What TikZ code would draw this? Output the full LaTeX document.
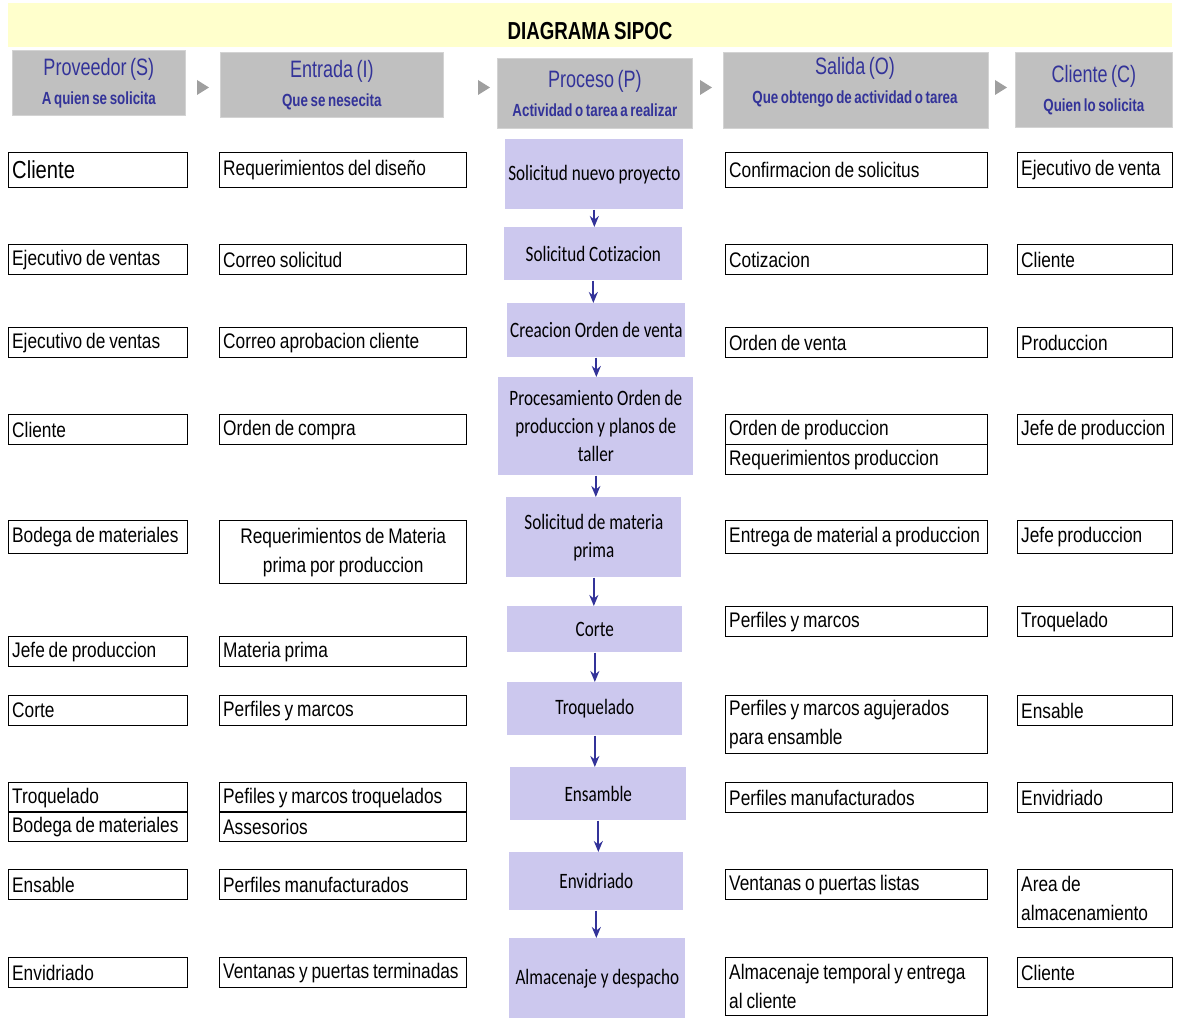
\documentclass[tikz,border=0pt]{standalone}
\usepackage{fontspec}
\setmainfont{Liberation Sans}[FakeStretch=0.82, WordSpace=0.8]
\newfontfamily\headfam{Liberation Sans}[FakeStretch=0.76, WordSpace=0.7]
\newfontfamily\procfam{Carlito}[FakeStretch=0.78, Ligatures=NoCommon]
\usepackage{xcolor}
\definecolor{bandc}{HTML}{FFFFCC}
\definecolor{headc}{HTML}{C0C0C0}
\definecolor{headtxt}{HTML}{333399}
\definecolor{procc}{HTML}{CCC8EE}
\usepackage{tikz}
\usetikzlibrary{positioning,arrows.meta}
\hyphenpenalty=10000
\exhyphenpenalty=10000

\newcommand\cellfont{\fontsize{12}{16.4}\selectfont}
\newcommand\bigcell{\fontsize{14}{16.4}\selectfont}
\newcommand\headbig{\headfam\fontsize{13.5}{15}\selectfont}
\newcommand\headsub{\headfam\bfseries\fontsize{10}{12}\selectfont}
\newcommand\procfont{\procfam\fontsize{12.5}{16}\selectfont}

\begin{document}
\begin{tikzpicture}[x=0.02cm, y=-0.02cm,
    every node/.style={font=\cellfont},
    band/.style={fill=bandc, anchor=north west, minimum width=23.28cm,
                 minimum height=0.88cm, inner sep=0pt},
    headbox/.style={fill=headc, draw=headc!70, anchor=north west,
                    align=center, inner sep=1pt, text=headtxt},
    cell/.style={draw=black, line width=0.8pt, anchor=north west,
                 align=flush left, inner xsep=2pt, inner ysep=0pt,
                 minimum height=0.6cm},
    colS/.style={cell, text width=3.44cm},
    colE/.style={cell, text width=4.80cm},
    colO/.style={cell, text width=5.10cm},
    colC/.style={cell, text width=2.96cm},
    proc/.style={fill=procc, anchor=north west, align=center,
                 inner sep=0pt, font=\procfont},
    flow/.style={-{Stealth[length=2.2mm,width=1.8mm]}, draw=headtxt,
                 line width=1.2pt},
    tri/.style={fill=gray!75}]
  \useasboundingbox (0,0) rectangle (1178,1020);
  % header
  \node[band] (bar) at (8,3) {};
  \node[font=\headfam\bfseries\fontsize{14}{15}\selectfont] (title) at (590,31) {DIAGRAMA SIPOC};
  \node[headbox, minimum width=3.46cm, minimum height=1.3cm] (hS) at (12,50)
    {{\headbig Proveedor (S)}\\{\headsub A quien se solicita}};
  \node[headbox, minimum width=4.46cm, minimum height=1.3cm] (hI) at (220,52)
    {{\headbig Entrada (I)}\\{\headsub Que se nesecita}};
  \node[headbox, minimum width=3.9cm, minimum height=1.4cm] (hP) at (497,58)
    {{\headbig Proceso (P)}\\{\headsub Actividad o tarea a realizar}};
  \node[headbox, minimum width=5.3cm, minimum height=1.52cm] (hO) at (723,52) {};
  \node[text=headtxt, align=center] (hOtxt) at (855,82)
    {{\headbig Salida (O)}\\{\headsub Que obtengo de actividad o tarea}};
  \node[headbox, minimum width=3.14cm, minimum height=1.5cm] (hC) at (1015,52)
    {{\headbig Cliente (C)}\\{\headsub Quien lo solicita}};
  \fill[tri] (197,80) -- (209,87.5) -- (197,95) -- cycle;
  \fill[tri] (478,80) -- (490,87.5) -- (478,95) -- cycle;
  \fill[tri] (700,80) -- (712,87.5) -- (700,95) -- cycle;
  \fill[tri] (995,80) -- (1007,87.5) -- (995,95) -- cycle;

  % proceso
  \node[proc, minimum width=3.56cm, minimum height=1.4cm] (p1) at (505,139) {Solicitud nuevo proyecto};
  \node[proc, minimum width=3.56cm, minimum height=1.06cm] (p2) at (504,227) {Solicitud Cotizacion};
  \node[proc, minimum width=3.56cm, minimum height=1.08cm] (p3) at (507,303) {Creacion Orden de venta};
  \node[proc, minimum width=3.9cm, minimum height=1.96cm] (p4) at (498,377)
    {Procesamiento Orden de\\produccion y planos de\\taller};
  \node[proc, minimum width=3.5cm, minimum height=1.6cm] (p5) at (506,497) {Solicitud de materia\\prima};
  \node[proc, minimum width=3.5cm, minimum height=0.92cm] (p6) at (507,606) {Corte};
  \node[proc, minimum width=3.5cm, minimum height=1.06cm] (p7) at (507,682) {Troquelado};
  \node[proc, minimum width=3.52cm, minimum height=1.06cm] (p8) at (510,767) {Ensamble};
  \node[proc, minimum width=3.48cm, minimum height=1.16cm] (p9) at (509,852) {Envidriado};
  \node[proc, minimum width=3.52cm, minimum height=1.6cm] (p10) at (509,938) {Almacenaje y despacho};
  \foreach \a/\b in {p1/p2,p2/p3,p3/p4,p4/p5,p5/p6,p6/p7,p7/p8,p8/p9,p9/p10}
    \draw[flow] (\a.south) -- (\a.south |- \b.north);

  % fila 1
  \node[colS, minimum height=0.7cm, font=\bigcell] (s1) at (8,152) {Cliente};
  \node[colE, minimum height=0.7cm] (e1) at (219,152) {Requerimientos del diseño};
  \node[colO, minimum height=0.7cm] (o1) at (725,152) {Confirmacion de solicitus};
  \node[colC, minimum height=0.7cm] (c1) at (1017,152) {Ejecutivo de venta};
  % fila 2
  \node[colS] (s2) at (8,244) {Ejecutivo de ventas};
  \node[colE] (e2) at (219,244) {Correo solicitud};
  \node[colO] (o2) at (725,244) {Cotizacion};
  \node[colC] (c2) at (1017,244) {Cliente};
  % fila 3
  \node[colS] (s3) at (8,327) {Ejecutivo de ventas};
  \node[colE] (e3) at (219,327) {Correo aprobacion cliente};
  \node[colO] (o3) at (725,327) {Orden de venta};
  \node[colC] (c3) at (1017,327) {Produccion};
  % fila 4
  \node[colS] (s4) at (8,414) {Cliente};
  \node[colE] (e4) at (219,414) {Orden de compra};
  \node[colO] (o4) at (725,414) {Orden de produccion};
  \node[colO] (o4b) at (725,444) {Requerimientos produccion};
  \node[colC] (c4) at (1017,414) {Jefe de produccion};
  % fila 5
  \node[colS, minimum height=0.66cm] (s5) at (8,520) {Bodega de materiales};
  \node[colE, minimum height=1.26cm, align=flush center] (e5) at (219,520)
    {Requerimientos de Materia\\prima por produccion};
  \node[colO, minimum height=0.66cm] (o5) at (725,520) {Entrega de material a produccion};
  \node[colC, minimum height=0.66cm] (c5) at (1017,520) {Jefe produccion};
  % fila 6
  \node[colO] (o6) at (725,606) {Perfiles y marcos};
  \node[colC] (c6) at (1017,606) {Troquelado};
  \node[colS] (s6) at (8,636) {Jefe de produccion};
  \node[colE] (e6) at (219,636) {Materia prima};
  % fila 7
  \node[colS] (s7) at (8,695) {Corte};
  \node[colE] (e7) at (219,695) {Perfiles y marcos};
  \node[colO, minimum height=1.16cm] (o7) at (725,695)
    {Perfiles y marcos agujerados\\para ensamble};
  \node[colC] (c7) at (1017,695) {Ensable};
  % fila 8
  \node[colS] (s8) at (8,782) {Troquelado};
  \node[colS] (s8b) at (8,811) {Bodega de materiales};
  \node[colE] (e8) at (219,782) {Pefiles y marcos troquelados};
  \node[colE] (e8b) at (219,811) {Assesorios};
  \node[colO] (o8) at (725,782) {Perfiles manufacturados};
  \node[colC] (c8) at (1017,782) {Envidriado};
  % fila 9
  \node[colS] (s9) at (8,869) {Ensable};
  \node[colE] (e9) at (219,869) {Perfiles manufacturados};
  \node[colO] (o9) at (725,869) {Ventanas o puertas listas};
  \node[colC, minimum height=1.16cm] (c9) at (1017,869) {Area de\\almacenamiento};
  % fila 10
  \node[colS] (s10) at (8,957) {Envidriado};
  \node[colE] (e10) at (219,957) {Ventanas y puertas terminadas};
  \node[colO, minimum height=1.16cm] (o10) at (725,957)
    {Almacenaje temporal y entrega\\al cliente};
  \node[colC] (c10) at (1017,957) {Cliente};
\end{tikzpicture}
\end{document}
